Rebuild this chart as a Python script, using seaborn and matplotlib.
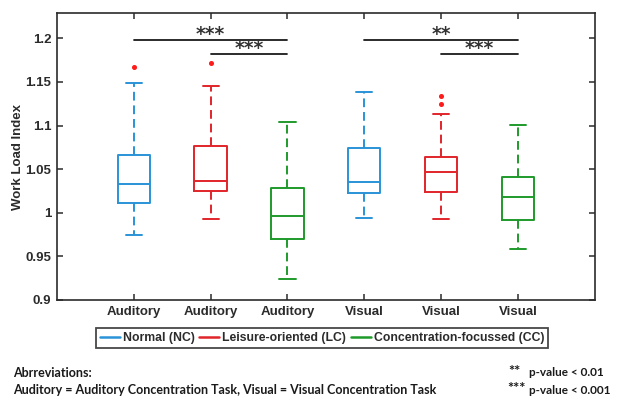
import matplotlib
matplotlib.use("Agg")
import matplotlib.pyplot as plt
import seaborn as sns
from matplotlib.lines import Line2D

sns.set_style("white")
plt.rcParams['font.family'] = ['Liberation Sans', 'DejaVu Sans']

# ---- data ----
tasks = ["Auditory", "Auditory", "Auditory", "Visual", "Visual", "Visual"]
conditions = ["Normal (NC)", "Leisure-oriented (LC)", "Concentration-focussed (CC)"]
whisker_low = [0.975, 0.993, 0.924, 0.994, 0.9925, 0.9585]
q1 = [1.011, 1.0255, 0.970, 1.023, 1.024, 0.992]
median = [1.033, 1.036, 0.996, 1.035, 1.0465, 1.0185]
q3 = [1.0665, 1.0765, 1.028, 1.074, 1.0637, 1.0407]
whisker_high = [1.149, 1.1455, 1.1045, 1.138, 1.1133, 1.101]
outliers = [[1.1676], [1.1714], [], [], [1.134, 1.1248], []]
sig_pairs = [(1, 3), (2, 3), (4, 6), (5, 6)]
sig_levels = [1.198, 1.182, 1.198, 1.182]
sig_labels = ["***", "***", "**", "***"]
ytick_vals = [0.9, 0.95, 1.0, 1.05, 1.1, 1.15, 1.2]
ytick_labels = ["0.9", "0.95", "1", "1.05", "1.1", "1.15", "1.2"]

palette = ["#2a93d8", "#e0252b", "#1f9a2a"]
flier_color = "#ff1a1a"
box_colors = [palette[i % 3] for i in range(6)]
txt_color = "#2b2b2b"

fig = plt.figure(figsize=(6.19, 4.0), dpi=100)
ax = fig.add_axes([0.092, 0.25, 0.869, 0.7175])

positions = list(range(1, 7))
for i in range(6):
    st = dict(whislo=whisker_low[i], q1=q1[i], med=median[i], q3=q3[i],
              whishi=whisker_high[i], fliers=outliers[i])
    c = box_colors[i]
    ax.bxp([st], positions=[positions[i]], widths=0.42, showfliers=True,
           boxprops=dict(color=c, linewidth=1.4),
           medianprops=dict(color=c, linewidth=1.4),
           whiskerprops=dict(color=c, linewidth=1.4, linestyle=(0, (4.5, 2.5))),
           capprops=dict(color=c, linewidth=1.4),
           capwidths=0.21,
           flierprops=dict(marker='o', markersize=2.6, markerfacecolor=flier_color,
                           markeredgecolor=flier_color, linestyle='none'))

# significance bars
for (a, b), lvl, lab in zip(sig_pairs, sig_levels, sig_labels):
    ax.plot([a, b], [lvl, lvl], color='#1a1a1a', linewidth=1.3)
    ax.text((a + b) / 2, lvl + 0.0065, lab, ha='center', va='center',
            fontsize=13.5, fontweight='bold', color='#333333', family='DejaVu Sans')

ax.set_xlim(0, 7)
ax.set_ylim(0.9, 1.229)
ax.set_xticks(positions)
ax.set_xticklabels(tasks, fontsize=9.5, fontweight='bold', color=txt_color)
ax.set_yticks(ytick_vals)
ax.set_yticklabels(ytick_labels, fontsize=9.5, fontweight='bold', color=txt_color)
ax.set_ylabel("Work Load Index", fontsize=9.5, fontweight='bold', color=txt_color, labelpad=1)
ax.tick_params(direction='in', length=4, width=1.1, top=True, right=True,
               bottom=True, left=True, labeltop=False, labelright=False, pad=4,
               colors='#2b2b2b')
for s in ax.spines.values():
    s.set_visible(True)
    s.set_color('#2b2b2b')
    s.set_linewidth(1.2)

handles = [Line2D([0], [0], color=palette[k], lw=1.8) for k in range(3)]
leg = fig.legend(handles, conditions, loc='center', bbox_to_anchor=(322 / 619, 1 - 338 / 400),
                 ncol=3, frameon=True, fancybox=False, handlelength=1.65, handletextpad=0.25,
                 columnspacing=0.35, borderpad=0.3, borderaxespad=0,
                 prop=dict(size=8.8, weight='bold'))
leg.get_frame().set_edgecolor('#1a1a1a')
leg.get_frame().set_linewidth(1.3)
for t in leg.get_texts():
    t.set_color(txt_color)

fnt = dict(family=['Lato', 'DejaVu Sans'], fontweight='bold', fontsize=9.0, color='#1a1a1a')
fnt_r = dict(fnt, fontsize=8.5)
fnt_s = dict(fnt, fontsize=10.5)
fig.text(13 / 619, 1 - 373 / 400, "Abrreviations:", va='center', ha='left', **fnt)
fig.text(13 / 619, 1 - 390 / 400,
         "Auditory = Auditory Concentration Task, Visual = Visual Concentration Task",
         va='center', ha='left', **fnt)
fig.text(508 / 619, 1 - 372 / 400, "**", va='center', ha='left', **fnt_s)
fig.text(529 / 619, 1 - 373 / 400, "p-value < 0.01", va='center', ha='left', **fnt_r)
fig.text(507 / 619, 1 - 389 / 400, "***", va='center', ha='left', **fnt_s)
fig.text(529 / 619, 1 - 390 / 400, "p-value < 0.001", va='center', ha='left', **fnt_r)

fig.savefig("out.png", dpi=100)
